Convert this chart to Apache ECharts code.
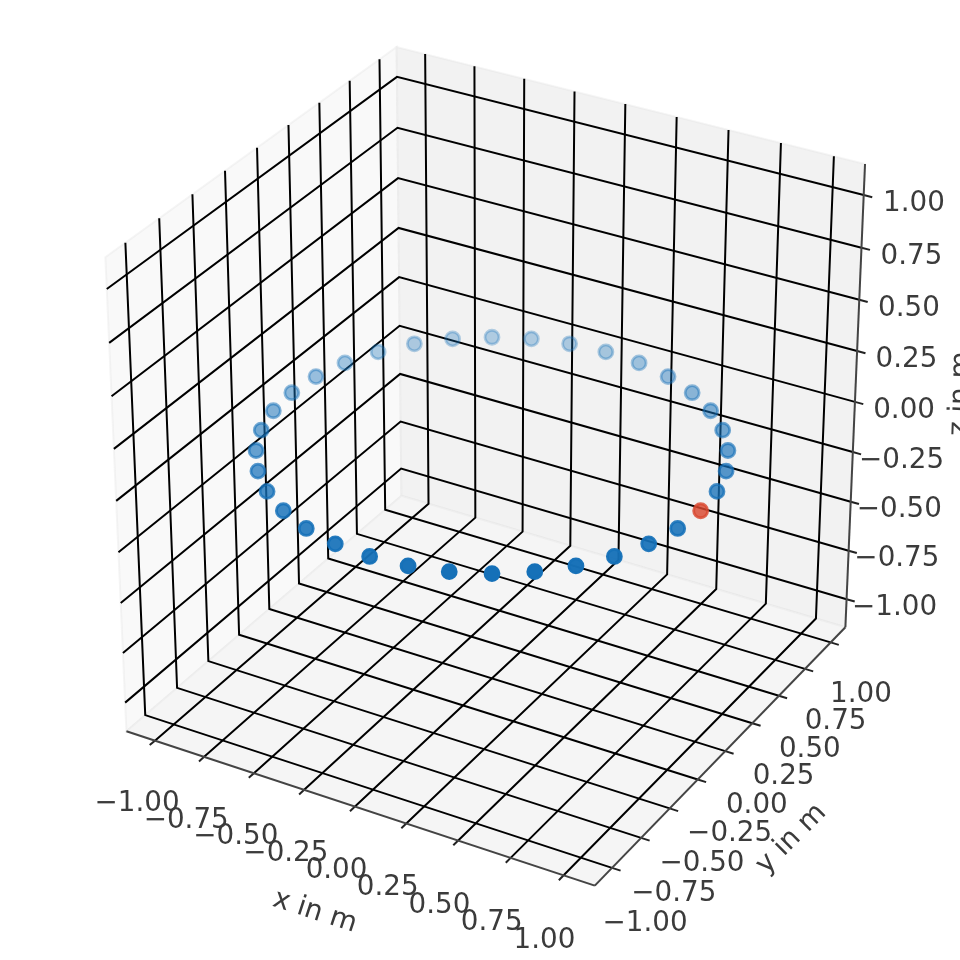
<!DOCTYPE html>
<html lang="en">
<head>
    <meta charset="UTF-8">
    <title>index</title>
    <script src="https://cdn.jsdelivr.net/npm/echarts@6/dist/echarts.min.js"></script>
    <style>
        body{
            margin: 0;
            background: #fff;
        }
    </style>
</head>
<body>
    <div id="main" style="width:960px;height:960px"></div>
</body>
<script>
    // points on the ring (metres)
    var xs = [1,0.985,0.94,0.866,0.766,0.643,0.5,0.342,0.174,0,-0.174,-0.342,-0.5,-0.643,-0.766,-0.866,-0.94,-0.985,-1,-0.985,-0.94,-0.866,-0.766,-0.643,-0.5,-0.342,-0.174,0,0.174,0.342,0.5,0.643,0.766,0.866,0.94,0.985];
    var ys = [0,0.174,0.342,0.5,0.643,0.766,0.866,0.94,0.985,1,0.985,0.94,0.866,0.766,0.643,0.5,0.342,0.174,0,-0.174,-0.342,-0.5,-0.643,-0.766,-0.866,-0.94,-0.985,-1,-0.985,-0.94,-0.866,-0.766,-0.643,-0.5,-0.342,-0.174];
    var zs = [0,0,0,0,0,0,0,0,0,0,0,0,0,0,0,0,0,0,0,0,0,0,0,0,0,0,0,0,0,0,0,0,0,0,0,0];
    var redPoint = 0;

    var tickValues = [-1,-0.75,-0.5,-0.25,0,0.25,0.5,0.75,1];
    var tickLabels = ['\u22121.00','\u22120.75','\u22120.50','\u22120.25','0.00','0.25','0.50','0.75','1.00'];
    var axisNames = ['x in m','y in m','z in m'];
    var lim = 1.1458; // where the panes end

    // view: elevation 30, azimuth -60, camera distance 10
    var el = 30*Math.PI/180, az = -60*Math.PI/180, dist = 10, boxScale = 0.55/lim;
    var w = [Math.cos(el)*Math.cos(az), Math.cos(el)*Math.sin(az), Math.sin(el)];
    var u = [-Math.sin(az), Math.cos(az), 0];
    var v = [w[1]*u[2]-w[2]*u[1], w[2]*u[0]-w[0]*u[2], w[0]*u[1]-w[1]*u[0]];
    function dot(a,p){ return a[0]*p[0]+a[1]*p[1]+a[2]*p[2]; }
    function depth(p){ return dot(w,p)*boxScale; }
    function proj(x,y,z){
        var p = [x,y,z], d = dist-depth(p);
        return [dot(u,p)*boxScale/d, dot(v,p)*boxScale/d];
    }

    var font = 'DejaVu Sans', textColor = '#3b3b3b';
    var L = lim, tickOut = 0.04;

    // panes
    var panes = [
        {pts:[[-L,-L,-L],[-L,L,-L],[-L,L,L],[-L,-L,L]], color:'#f9f9f9'},
        {pts:[[-L,L,-L],[L,L,-L],[L,L,L],[-L,L,L]], color:'#f2f2f2'},
        {pts:[[-L,-L,-L],[L,-L,-L],[L,L,-L],[-L,L,-L]], color:'#f5f5f5'}
    ];

    // grid lines bend where two panes meet
    var gridLines = [], tickLines = [];
    tickValues.forEach(function(t){
        gridLines.push({coords:[proj(t,-L,-L),proj(t,L,-L),proj(t,L,L)]});
        gridLines.push({coords:[proj(L,t,-L),proj(-L,t,-L),proj(-L,t,L)]});
        gridLines.push({coords:[proj(-L,-L,t),proj(-L,L,t),proj(L,L,t)]});
        tickLines.push({coords:[proj(t,-L,-L),proj(t,-L-tickOut,-L)]});
        tickLines.push({coords:[proj(L,t,-L),proj(L+tickOut,t,-L)]});
        tickLines.push({coords:[proj(L,L,t),proj(L+tickOut,L,t)]});
    });
    var axisLines = [
        {coords:[proj(-L,-L,-L),proj(L,-L,-L)]},
        {coords:[proj(L,-L,-L),proj(L,L,-L)]},
        {coords:[proj(L,L,-L),proj(L,L,L)]}
    ];

    // text
    var labelData = [];
    function addLabel(pos,text,rot){
        labelData.push({value:pos, label:{formatter:text, rotate:rot||0}});
    }
    tickValues.forEach(function(t,i){
        addLabel(proj(t-0.012,-L-0.135,-L-0.25),tickLabels[i]);
        addLabel(proj(L+0.158,t,-L-0.225),tickLabels[i]);
        addLabel(proj(L+0.22,L+0.03,t+(1-t)*0.005),tickLabels[i]);
    });
    addLabel(proj(0,-L-0.33,-L-0.335),axisNames[0],-18);
    addLabel(proj(L+0.327,0,-L-0.34),axisNames[1],45);
    addLabel(proj(L+0.365,L+0.293,0),axisNames[2],88);

    // back of the ring fades, like depth shading
    var depths = xs.map(function(x,i){ return depth([x,ys[i],zs[i]]); });
    var dMin = Math.min.apply(null,depths), dMax = Math.max.apply(null,depths);
    var points = xs.map(function(x,i){
        var a = 0.3+0.7*(depths[i]-dMin)/(dMax-dMin);
        var c = i===redPoint ? 'rgba(217,72,47,'+a+')' : 'rgba(21,112,184,'+a+')';
        return {value:proj(x,ys[i],zs[i]), itemStyle:{color:c, borderColor:c, borderWidth:2.8, opacity:1}};
    });

    var chart = echarts.init(document.getElementById('main'));
    chart.setOption({
        animation:false,
        grid:{left:0,right:0,top:0,bottom:0},
        xAxis:{type:'value',show:false,min:-492/4915,max:468/4915},
        yAxis:{type:'value',show:false,min:-509.5/4915,max:450.5/4915},
        series:[
            {
                type:'custom',
                coordinateSystem:'cartesian2d',
                silent:true,
                z:1,
                data:[0,1,2],
                renderItem:function(params,api){
                    var p = panes[params.dataIndex];
                    return {
                        type:'polygon',
                        shape:{points:p.pts.map(function(c){ return api.coord(proj(c[0],c[1],c[2])); })},
                        style:{fill:p.color,stroke:'rgba(225,225,225,0.35)',lineWidth:2}
                    };
                }
            },
            {type:'lines',coordinateSystem:'cartesian2d',polyline:true,silent:true,z:2,
             data:gridLines,lineStyle:{color:'#000',width:2,opacity:1}},
            {type:'lines',coordinateSystem:'cartesian2d',polyline:true,silent:true,z:2,
             data:tickLines,lineStyle:{color:'#222',width:2,opacity:1}},
            {type:'lines',coordinateSystem:'cartesian2d',polyline:true,silent:true,z:3,
             data:axisLines,lineStyle:{color:'#444',width:2,opacity:1}},
            {type:'scatter',silent:true,z:4,symbolSize:14,data:points},
            {type:'scatter',silent:true,z:5,clip:false,symbolSize:0,data:labelData,itemStyle:{opacity:1},
             label:{show:true,position:'inside',align:'center',verticalAlign:'middle',
                    fontFamily:font,fontSize:27.78,color:textColor,textBorderWidth:0}}
        ]
    });
</script>
</html>
